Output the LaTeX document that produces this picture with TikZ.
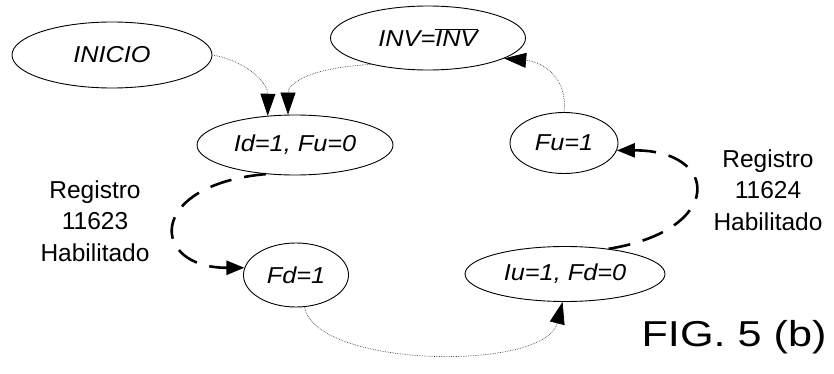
\documentclass[tikz,border=0pt]{standalone}
\usepackage{fontspec}
\setmainfont{Liberation Sans}
\usetikzlibrary{shapes.geometric,arrows.meta}
\newcommand\wide[1]{\scalebox{1.1}[1]{#1}}
\begin{document}
\begin{tikzpicture}[x=1pt,y=-1pt,
  state/.style={ellipse,draw=black,line width=0.9pt,inner sep=0pt,font=\fontsize{23}{26}\selectfont\itshape},
  dotarrow/.style={densely dotted,line width=0.7pt,draw=black!70,-{Triangle[length=22pt,width=15pt,fill=black,color=black]}},
  dasharrow/.style={line width=2.6pt,dash pattern=on 22pt off 13pt,-{Triangle[length=18pt,width=14pt]}},
  lbl/.style={align=center,font=\fontsize{24.5}{31.5}\selectfont,inner sep=0pt}]
\useasboundingbox (0,0) rectangle (834,374);
\node[state,minimum width=200pt,minimum height=66pt] (inicio) at (112,55) {\wide{INICIO}};
\node[state,minimum width=195pt,minimum height=64pt] (inv) at (428,38) {\wide{INV=$\overline{\mbox{\itshape INV}}$}};
\node[state,minimum width=196pt,minimum height=60pt] (id) at (295,145) {\wide{Id=1, Fu=0}};
\node[state,minimum width=105pt,minimum height=64pt] (fd) at (296,275) {\wide{Fd=1}};
\node[state,minimum width=108pt,minimum height=61pt] (fu) at (564,143) {\wide{Fu=1}};
\node[state,minimum width=200pt,minimum height=55pt] (iu) at (565,274) {\wide{Iu=1, Fd=0}};
\node[lbl] (l1) at (95,221) {Registro\\11623\\Habilitado};
\node[lbl] (l2) at (768,190) {Registro\\11624\\Habilitado};
\node[inner sep=0pt] (fig) at (734,337) {\scalebox{1.2}[1]{\fontsize{36}{40}\selectfont FIG. 5 (b)}};
\draw[dotarrow] (inicio.east) .. controls (250,62) and (268,85) .. (id.133);
\draw[dotarrow] (inv.205) .. controls (305,68) and (288,85) .. (id.103);
\draw[dotarrow] (fu.north) .. controls (568,80) and (545,62) .. (inv.-15);
\draw[dotarrow] (fd.-75) .. controls (315,368) and (545,372) .. (iu.-95);
\draw[dasharrow] (id.-135) .. controls (145,185) and (150,268) .. (fd.172);
\draw[dasharrow] (iu.30) .. controls (725,230) and (720,150) .. (fu.-8);
\end{tikzpicture}
\end{document}
